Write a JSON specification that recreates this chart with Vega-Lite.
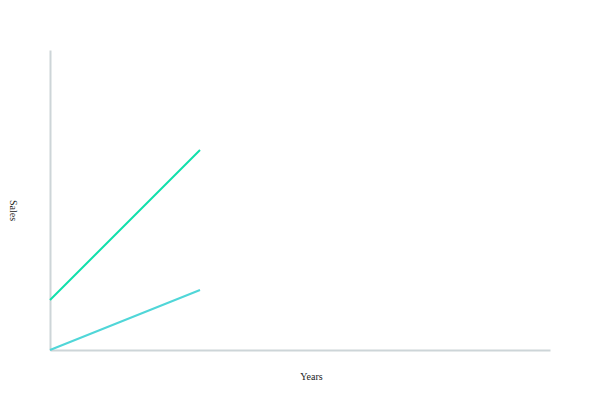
{
  "$schema": "https://vega.github.io/schema/vega-lite/v6.json",
  "width": 500,
  "height": 300,
  "autosize": {"type": "none"},
  "padding": {"left": 50, "top": 50, "right": 50, "bottom": 50},
  "background": "white",
  "config": {"view": {"stroke": null}, "font": "Liberation Serif"},
  "data": {"values": [
    {"year": 0, "sales": 1, "series": "A"},
    {"year": 3, "sales": 4, "series": "A"},
    {"year": 0, "sales": 0, "series": "B"},
    {"year": 3, "sales": 1.2, "series": "B"}
  ]},
  "mark": {"type": "line", "strokeWidth": 2},
  "encoding": {
    "x": {"field": "year", "type": "quantitative", "scale": {"domain": [0, 10], "nice": false},
      "axis": {"title": "Years", "labels": false, "ticks": false, "grid": false, "domainColor": "#cdd5d8", "domainWidth": 2,
        "titleFont": "Liberation Serif", "titleFontWeight": "normal", "titleFontSize": 10, "titleColor": "#222",
        "titleX": 261, "titleY": 29, "titleBaseline": "alphabetic"}},
    "y": {"field": "sales", "type": "quantitative", "scale": {"domain": [0, 6], "nice": false},
      "axis": {"title": "Sales", "labels": false, "ticks": false, "grid": false, "domainColor": "#cdd5d8", "domainWidth": 2,
        "titleFont": "Liberation Serif", "titleFontWeight": "normal", "titleFontSize": 10, "titleColor": "#222",
        "titleAngle": 90, "titleX": -38, "titleY": 160, "titleBaseline": "middle"}},
    "color": {"field": "series", "type": "nominal", "scale": {"domain": ["A", "B"], "range": ["#0fe0ab", "#50d6d8"]}, "legend": null}
  }
}
